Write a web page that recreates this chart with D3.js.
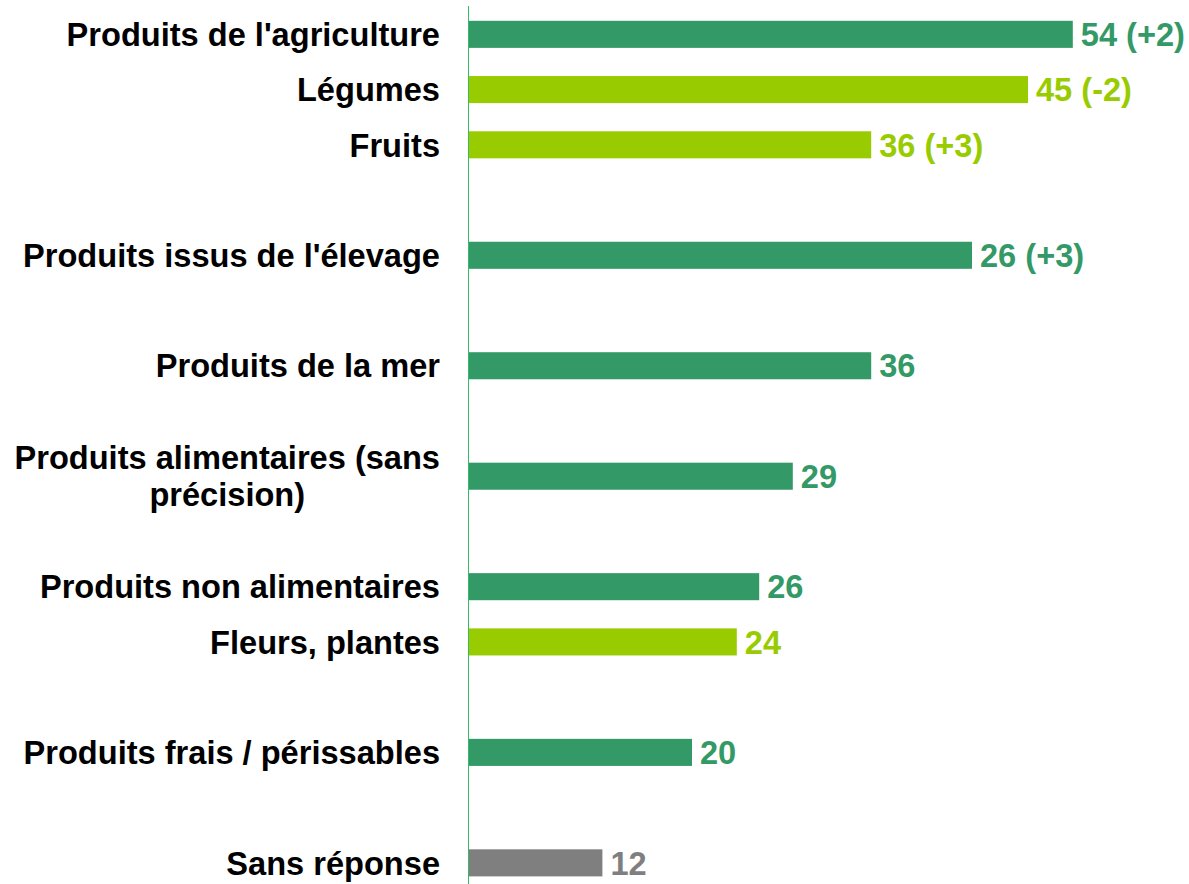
<!DOCTYPE html>
<html>
<head>
<meta charset="utf-8">
<script src="https://cdn.jsdelivr.net/npm/d3@7"></script>
<style>
    body { margin: 0; background: #fff; }
    svg text { font-family: "Liberation Sans", Arial, sans-serif; font-weight: bold; font-size: 32.6px; }
</style>
</head>
<body>
<svg id="chart"></svg>
<script>
// rows, top to bottom; empty names are spacer slots
var CATEGORIES = [
    "Produits de l'agriculture", "Légumes", "Fruits", "",
    "Produits issus de l'élevage", "",
    "Produits de la mer", "",
    "Produits alimentaires (sans|précision)", "",
    "Produits non alimentaires", "Fleurs, plantes", "",
    "Produits frais / périssables", "",
    "Sans réponse"
];
// bar lengths as drawn in the picture
var VALUES = [54, 50, 36, null, 45, null, 36, null, 29, null, 26, 24, null, 20, null, 12];
// labels as printed next to the bars
var VALUE_LABELS = ["54 (+2)", "45 (-2)", "36 (+3)", "", "26 (+3)", "", "36", "", "29", "", "26", "24", "", "20", "", "12"];
// kind of row: main, sub, none
var KINDS = ["main", "sub", "sub", "", "main", "", "main", "", "main", "", "main", "sub", "", "main", "", "none"];

(function () {
    var WIDTH = 1189, HEIGHT = 884;
    var AXIS_X = 468;
    var COLORS = {main: "#339966", sub: "#99cc00", none: "#7f7f7f"};

    var svg = d3.select("#chart").attr("width", WIDTH).attr("height", HEIGHT);

    var rows = CATEGORIES.map(function (c, i) {
        return {id: i, name: c, value: VALUES[i], label: VALUE_LABELS[i], kind: KINDS[i]};
    });

    var yScale = d3.scaleBand().domain(rows.map(function (d) { return d.id; }))
        .range([7, 890.2]).paddingInner(0.51).paddingOuter(0.25);
    var xScale = d3.scaleLinear().domain([0, 60]).range([AXIS_X, AXIS_X + 672]);

    var filled = rows.filter(function (d) { return d.value !== null; });

    svg.selectAll("rect.bar").data(filled).enter().append("rect")
        .attr("class", "bar")
        .attr("x", xScale(0))
        .attr("y", function (d) { return yScale(d.id); })
        .attr("width", function (d) { return xScale(d.value) - xScale(0); })
        .attr("height", yScale.bandwidth())
        .style("fill", function (d) { return COLORS[d.kind]; });

    // value labels
    svg.selectAll("text.val").data(filled).enter().append("text")
        .attr("class", "val")
        .attr("x", function (d) { return xScale(d.value) + 8; })
        .attr("y", function (d) { return yScale(d.id) + yScale.bandwidth() / 2; })
        .attr("dy", "0.36em")
        .style("fill", function (d) { return COLORS[d.kind]; })
        .text(function (d) { return d.label; });

    // category labels, right aligned; wrapped ones are centred as a block
    filled.forEach(function (d) {
        var cy = yScale(d.id) + yScale.bandwidth() / 2;
        var lines = d.name.split("|");
        if (lines.length == 1) {
            svg.append("text").attr("x", AXIS_X - 28).attr("y", cy).attr("dy", "0.36em")
                .style("text-anchor", "end").style("fill", "#000").text(d.name);
        } else {
            var t = svg.append("text").style("text-anchor", "middle").style("fill", "#000");
            lines.forEach(function (l, k) {
                t.append("tspan").attr("x", 0).attr("y", cy + (k - (lines.length - 1) / 2) * 37)
                    .attr("dy", "0.36em").text(l);
            });
            var w = t.node().getBBox().width;
            t.selectAll("tspan").attr("x", AXIS_X - 28 - w / 2);
        }
    });

    svg.append("line")
        .attr("x1", AXIS_X + 0.5).attr("x2", AXIS_X + 0.5)
        .attr("y1", 6).attr("y2", HEIGHT)
        .style("stroke", "#33bb66").style("stroke-width", 1);
}());
</script>
</body>
</html>
